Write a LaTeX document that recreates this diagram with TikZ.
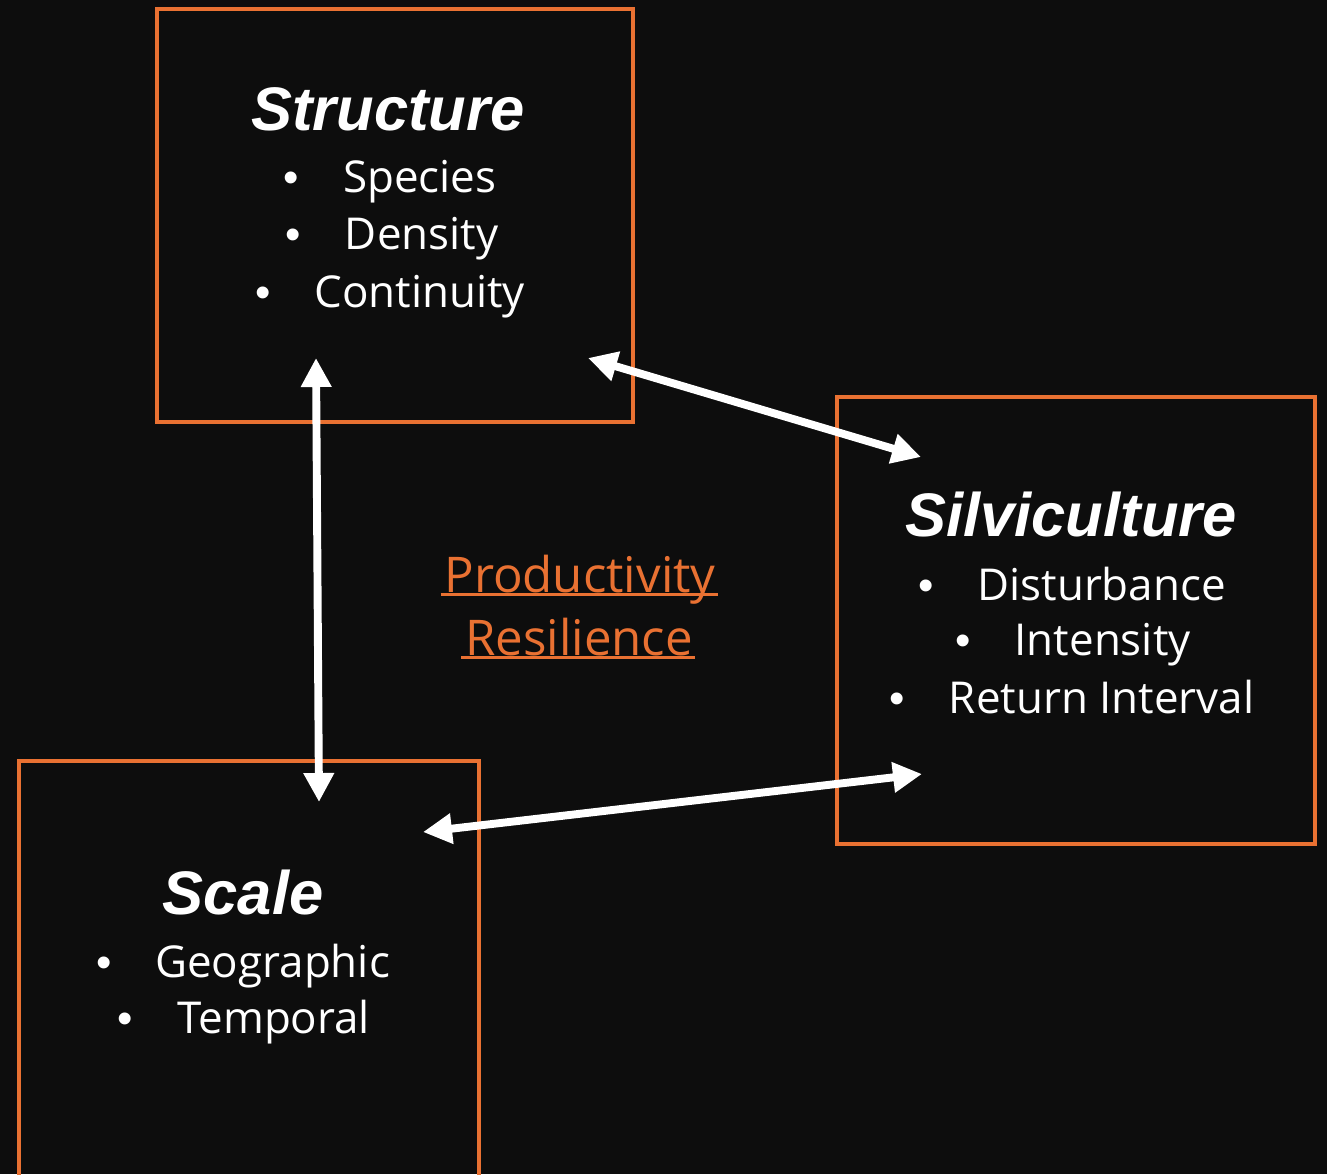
\documentclass[tikz,border=0pt]{standalone}
\usepackage{fontspec}
\setmainfont{Open Sans}
\newfontfamily\headfont{Liberation Sans}
\usetikzlibrary{positioning,arrows,arrows.meta,calc}
\definecolor{bg}{HTML}{0D0D0D}
\definecolor{accent}{HTML}{E97132}
\newcommand{\itm}[1]{{\headfont\textbullet}\hspace{1em}#1}
\tikzset{
  panel/.style={draw=accent, line width=1.8pt, inner sep=0pt, outer sep=0pt},
  heading/.style={text=white, anchor=base, inner sep=0pt,
    font=\headfont\bfseries\itshape\fontsize{35}{40}\selectfont},
  entry/.style={text=white, anchor=base, inner sep=0pt, font=\fontsize{25}{30}\selectfont},
  theme/.style={text=accent, anchor=base, inner sep=0pt, font=\fontsize{28}{32}\selectfont},
  uline/.style={draw=accent, line width=1.4pt},
  link/.style={draw=white, line width=4.5pt,
    {Triangle[length=16.5pt,width=16.5pt]}-{Triangle[length=16.5pt,width=16.5pt]}}
}

\begin{document}
\begin{tikzpicture}[x=0.02cm, y=-0.02cm]
    \fill[bg] (0,0) rectangle (1327,1174);
    \useasboundingbox (0,0) rectangle (1327,1174);

    % frames
    \node[panel, minimum width=9.52cm, minimum height=8.26cm] (structure) at (395,215.5) {};
    \node[panel, minimum width=9.56cm, minimum height=8.94cm] (silvi) at (1076,620.5) {};
    \node[panel, minimum width=9.2cm, minimum height=8.48cm] (scale) at (249,973) {};

    % structure
    \node[heading] (strT) at (388,130) {Structure};
    \node[entry] (str1) at (390,192) {\itm{Species}};
    \node[entry] (str2) at (392,249) {\itm{Density}};
    \node[entry] (str3) at (390,307) {\itm{Continuity}};

    % silviculture
    \node[heading] (silT) at (1071,536) {Silviculture};
    \node[entry] (sil1) at (1072,600) {\itm{Disturbance}};
    \node[entry] (sil2) at (1073,655) {\itm{Intensity}};
    \node[entry] (sil3) at (1072,713) {\itm{Return Interval}};

    % scale
    \node[heading] (scaT) at (243,914) {Scale};
    \node[entry] (sca1) at (243,977) {\itm{Geographic}};
    \node[entry] (sca2) at (244,1033) {\itm{Temporal}};

    % centre
    \node[theme] (prod) at (580,592) {Productivity};
    \node[theme] (resil) at (579,655) {Resilience};
    \draw[uline] ([xshift=-2pt,yshift=-1.3pt]prod.base west) -- ([xshift=1pt,yshift=-1.3pt]prod.base east);
    \draw[uline] ([xshift=-2pt,yshift=-1.3pt]resil.base west) -- ([xshift=1pt,yshift=-1.3pt]resil.base east);

    % arrow ends
    \coordinate (v1) at (316,358);
    \coordinate (v2) at (319,802);
    \coordinate (d1) at (588,358);
    \coordinate (d2) at (921,457);
    \coordinate (s1) at (423,832);
    \coordinate (s2) at (922,774);

    \draw[link] (v1) -- (v2);
    \draw[link] (d1) -- (d2);
    \draw[link] (s1) -- (s2);
\end{tikzpicture}
\end{document}
